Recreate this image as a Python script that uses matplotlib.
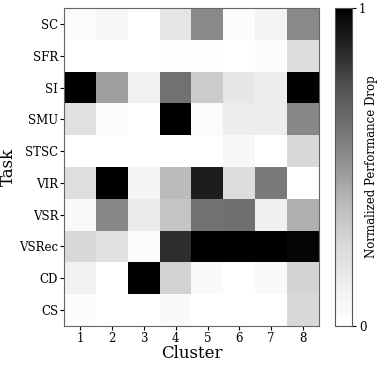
import numpy as np
import matplotlib
matplotlib.use("Agg")
import matplotlib.pyplot as plt

plt.rcParams['font.family'] = 'DejaVu Serif'

tasks = ["SC", "SFR", "SI", "SMU", "STSC", "VIR", "VSR", "VSRec", "CD", "CS"]
clusters = ["1", "2", "3", "4", "5", "6", "7", "8"]

# normalized performance drop, one row per task
sc = [0.03, 0.06, 0.00, 0.18, 0.54, 0.02, 0.09, 0.54]
sfr = [0.00, 0.00, 0.00, 0.01, 0.01, 0.00, 0.02, 0.23]
si = [1.00, 0.47, 0.11, 0.63, 0.31, 0.17, 0.14, 1.00]
smu = [0.21, 0.02, 0.00, 1.00, 0.03, 0.14, 0.14, 0.55]
stsc = [0.00, 0.00, 0.00, 0.00, 0.00, 0.07, 0.00, 0.25]
vir = [0.22, 1.00, 0.08, 0.38, 0.90, 0.23, 0.60, 0.00]
vsr = [0.05, 0.55, 0.15, 0.34, 0.63, 0.64, 0.12, 0.42]
vsrec = [0.25, 0.20, 0.02, 0.85, 1.00, 1.00, 1.00, 0.98]
cd = [0.11, 0.00, 1.00, 0.28, 0.04, 0.00, 0.05, 0.27]
cs = [0.02, 0.00, 0.00, 0.04, 0.00, 0.00, 0.00, 0.25]

data = np.array([sc, sfr, si, smu, stsc, vir, vsr, vsrec, cd, cs])

fig = plt.figure(figsize=(3.81, 3.65), dpi=100)
ax = fig.add_axes([0.169, 0.107, 0.668, 0.871])
cax = fig.add_axes([0.879, 0.107, 0.045, 0.871])

im = ax.imshow(data, cmap="Greys", vmin=0, vmax=1, aspect="auto")
ax.set_xticks(range(len(clusters)))
ax.set_xticklabels(clusters, fontsize=8.5)
ax.set_yticks(range(len(tasks)))
ax.set_yticklabels(tasks, fontsize=8.5)
ax.tick_params(length=3, width=0.8, pad=1.5)
ax.set_xlabel("Cluster", fontsize=12, labelpad=0)
ax.set_ylabel("Task", fontsize=12)
ax.yaxis.set_label_coords(-0.187, 0.5)
for s in ax.spines.values():
    s.set_color("#666666")

cb = fig.colorbar(im, cax=cax, ticks=[0, 1])
cb.ax.tick_params(labelsize=8.5, length=3, width=0.8, pad=2)
cb.outline.set_edgecolor("#555555")
cb.set_label("Normalized Performance Drop", fontsize=8.5)
cb.ax.yaxis.set_label_coords(1.76, 0.5)

fig.savefig("out.png", dpi=100)
